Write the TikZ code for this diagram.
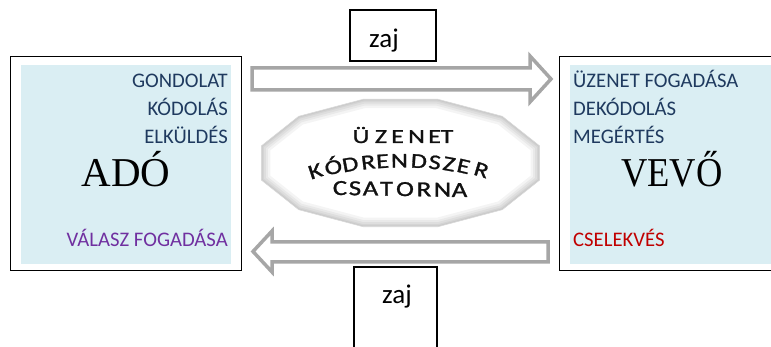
\documentclass[tikz,border=0pt]{standalone}
\usepackage{fontspec}
\usepackage{graphicx}
\setmainfont{Carlito}
\newfontfamily\adofont{Liberation Serif}
\newfontfamily\wafont[FakeBold=1.1]{Carlito}
\definecolor{boxblue}{HTML}{DAEEF3}
\definecolor{txtblue}{HTML}{1F3A5F}
\definecolor{txtpurple}{HTML}{7030A0}
\definecolor{txtred}{HTML}{C00000}
\definecolor{arrgray}{HTML}{A6A6A6}
\definecolor{centertxt}{HTML}{111111}
\newcommand\centerpoly{(15:144pt and 66pt) -- (45:144pt and 66pt) -- (75:144pt and 66pt) -- (105:144pt and 66pt) -- (135:144pt and 66pt) -- (165:144pt and 66pt) -- (195:144pt and 66pt) -- (225:144pt and 66pt) -- (255:144pt and 66pt) -- (285:144pt and 66pt) -- (315:144pt and 66pt) -- (345:144pt and 66pt) -- cycle}
\newcommand\wordartA[1]{\wafont\fontsize{20}{20}\selectfont\scalebox{1.3}[1]{#1}}
\newcommand\wordartB[1]{\wafont\fontsize{21}{22}\selectfont\scalebox{1.25}[1]{#1}}
\newcommand\wordartC[1]{\wafont\fontsize{21.5}{22}\selectfont\scalebox{1.25}[1]{#1}}
\begin{document}
\begin{tikzpicture}[x=1pt,y=-1pt,
  every node/.style={inner sep=0pt},
  lbl/.style={font=\fontsize{20.7}{24}\selectfont, text=txtblue},
  bigname/.style={font=\adofont\fontsize{41}{46}\selectfont, text=black},
  zajtxt/.style={font=\fontsize{27}{30}\selectfont},
  framebox/.style={draw=black, line width=1pt},
  zajbox/.style={draw=black, line width=1.4pt},
  blockarrow/.style={draw=arrgray, line width=3.5pt, fill=white, line join=miter},
  letter/.style={text=centertxt, anchor=base}]
\useasboundingbox (0,0) rectangle (771,347);

% left frame (ADO)
\draw[framebox, fill=white] (10,57) rectangle (241,271);
\fill[boxblue] (21,65) rectangle (231,264);
% right frame (VEVO)
\draw[framebox, fill=white] (559,57) rectangle (776,271);
\fill[boxblue] (570,65) rectangle (776,264);

% left texts
\node[lbl, anchor=base east] (gond) at (228,88) {GONDOLAT};
\node[lbl, anchor=base east] (kod) at (228,116) {KÓDOLÁS};
\node[lbl, anchor=base east] (elk) at (228,144) {ELKÜLDÉS};
\node[bigname, anchor=base] (ado) at (126,187) {ADÓ};
\node[lbl, text=txtpurple, anchor=base east] (valasz) at (228,247) {VÁLASZ FOGADÁSA};

% right texts
\node[lbl, anchor=base west] (uzf) at (573,88) {ÜZENET FOGADÁSA};
\node[lbl, anchor=base west] (dek) at (573,116) {DEKÓDOLÁS};
\node[lbl, anchor=base west] (meg) at (573,144) {MEGÉRTÉS};
\node[bigname, anchor=base] (vevo) at (672,187) {\scalebox{0.89}[1]{VEVŐ}};
\node[lbl, text=txtred, anchor=base west] (csel) at (573,247) {CSELEKVÉS};

% block arrows
\draw[blockarrow] (252,68) -- (530,68) -- (530,56) -- (551,79) -- (530,102) -- (530,90) -- (252,90) -- cycle;
\draw[blockarrow] (548,242) -- (272,242) -- (272,231) -- (253,251.5) -- (272,272) -- (272,262) -- (548,262) -- cycle;

% noise boxes
\draw[zajbox] (350,10) rectangle (436,61);
\node[zajtxt, anchor=base west] (zaj1) at (369,48) {zaj};
\draw[zajbox] (354,267) rectangle (437,352);
\node[zajtxt, anchor=base west] (zaj2) at (382,304) {zaj};

% central polygon with inner glow
\begin{scope}[shift={(400.5,163)}]
  \fill[white] \centerpoly;
  \begin{scope}
    \clip \centerpoly;
    \foreach \w in {18,13,9,5,2.5}{
      \draw[line width=\w pt, black, opacity=0.045] \centerpoly;
    }
  \end{scope}
  \draw[black!15, line width=0.6pt] \centerpoly;
\end{scope}

% central text, letter by letter (stretched WordArt look)
\foreach \c/\x [count=\i] in {Ü/361, Z/381, E/397.5, N/416.5, E/434.5, T/447}{
  \node[letter] (ua\i) at (\x,143) {\wordartA{\c}};
}
\foreach \c/\x [count=\i] in {K/317.5, Ó/335, D/351.5, R/369, E/383, N/399.5, D/418.5, S/434, Z/448, E/462, R/479.5}{
  \pgfmathsetmacro\ang{asin((\x-401)/350)}
  \pgfmathsetmacro\rot{1.3*\ang}
  \node[letter, rotate=-\rot] (kb\i) at (\x,{167.5+350-350*cos(\ang)}) {\wordartB{\c}};
}
\foreach \c/\x [count=\i] in {C/340, S/355, A/370.5, T/386.5, O/405, R/424, N/442.5, A/459.5}{
  \node[letter] (cc\i) at (\x,{195+0.016*(\x-340)}) {\wordartC{\c}};
}
\end{tikzpicture}
\end{document}
